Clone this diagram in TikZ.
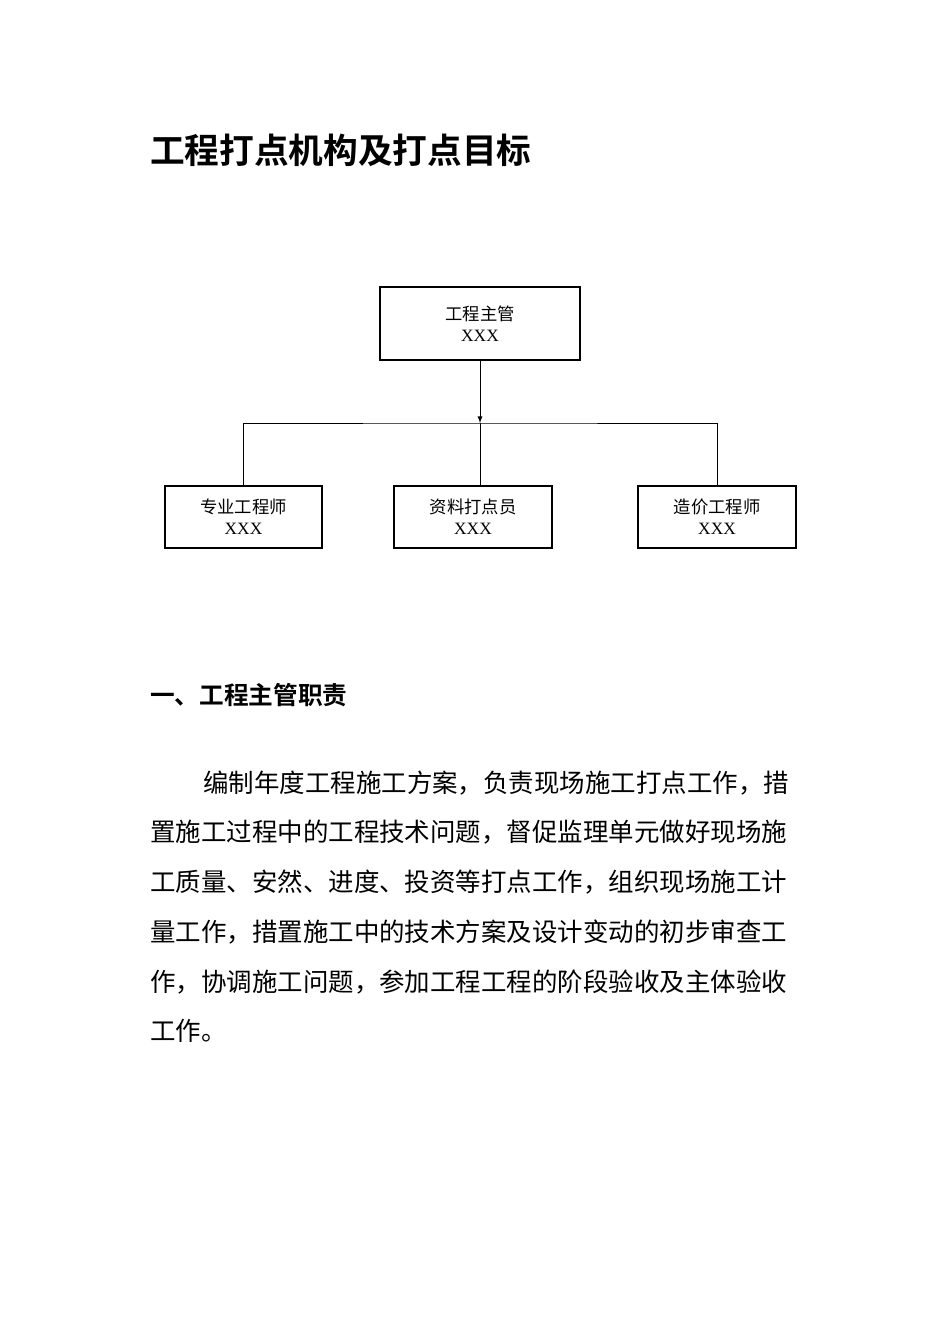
\documentclass[tikz,border=0pt]{standalone}
\usepackage{fontspec}
\newfontfamily\cjk{Noto Sans CJK SC}
\newfontfamily\cjkb{Noto Sans CJK SC Bold}
\setmainfont{Liberation Serif}
\begin{document}
\begin{tikzpicture}[x=0.75pt,y=-0.75pt,
  box/.style={draw,line width=0.8pt,minimum width=#1*0.75pt,inner sep=0pt,align=center,font=\fontsize{13}{16}\selectfont},
  conn/.style={line width=0.7pt},
  para/.style={anchor=west,inner sep=0pt,font=\cjk\fontsize{19.1}{22}\selectfont}]
\useasboundingbox (0,0) rectangle (950,1344);
\node[anchor=west,inner sep=0pt,font=\cjkb\fontsize{26}{30}\selectfont] (title) at (150,150) {工程打点机构及打点目标};
\node[box=200,minimum height=54.75pt] (top) at (480,323.5) {\cjk 工程主管\\XXX};
\node[box=157,minimum height=46.5pt] (b1) at (243.5,517) {\cjk 专业工程师\\XXX};
\node[box=158,minimum height=46.5pt] (b2) at (473,517) {\cjk 资料打点员\\XXX};
\node[box=158,minimum height=46.5pt] (b3) at (717,517) {\cjk 造价工程师\\XXX};
\coordinate (j) at (480,423);
\draw[conn,-latex] (top.south) -- (j);
\draw[conn] (b1.north) |- (j) -| (b3.north);
\draw[conn] (j) -- (j |- b2.north);
\node[anchor=west,inner sep=0pt,font=\cjkb\fontsize{18.5}{22}\selectfont] (h1) at (150,695) {一、工程主管职责};
\node[para] (l1) at (203,783) {编制年度工程施工方案，负责现场施工打点工作，措};
\node[para] (l2) at (150,832) {置施工过程中的工程技术问题，督促监理单元做好现场施};
\node[para] (l3) at (150,882) {工质量、安然、进度、投资等打点工作，组织现场施工计};
\node[para] (l4) at (150,932) {量工作，措置施工中的技术方案及设计变动的初步审查工};
\node[para] (l5) at (150,982) {作，协调施工问题，参加工程工程的阶段验收及主体验收};
\node[para] (l6) at (150,1031) {工作。};
\end{tikzpicture}
\end{document}
